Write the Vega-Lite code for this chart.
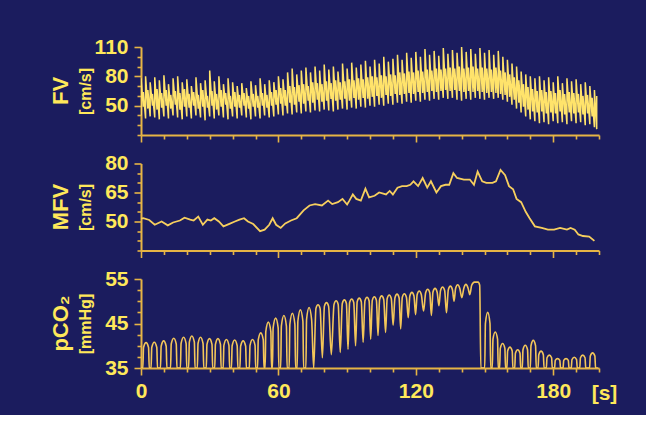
{
"$schema": "https://vega.github.io/schema/vega-lite/v6.json",
"background": "#1b1c5e",
"padding": {"top": 36, "left": 50, "right": 30, "bottom": 12},
"spacing": 28.5,
"bounds": "flush",
"config": {
 "view": {"stroke": null},
 "axis": {"domainColor": "#e6b445", "domainWidth": 2, "tickColor": "#e6b445", "tickWidth": 1.6, "grid": false,
  "labelFont": "Liberation Sans", "labelFontSize": 21, "labelFontWeight": "bold", "labelColor": "#ffe85a",
  "labelFlush": false, "labelOverlap": false, "titleFont": "Liberation Sans", "titleFontWeight": "bold", "titleColor": "#ffe85a"},
 "title": {"font": "Liberation Sans", "fontWeight": "bold", "color": "#ffe85a", "fontSize": 22}
},
"datasets": {
 "fv": [
{"t":0,"a":40,"b":78},{"t":1,"a":49,"b":64},{"t":2,"a":37,"b":80},{"t":3,"a":47,"b":66},{"t":4,"a":39,"b":74},{"t":5,"a":50,"b":62},{"t":6,"a":38,"b":79},{"t":7,"a":46,"b":67},{"t":8,"a":36,"b":76},{"t":9,"a":48,"b":63},
{"t":10,"a":39,"b":81},{"t":11,"a":50,"b":66},{"t":12,"a":37,"b":72},{"t":13,"a":47,"b":61},{"t":14,"a":40,"b":78},{"t":15,"a":51,"b":65},{"t":16,"a":38,"b":80},{"t":17,"a":46,"b":63},{"t":18,"a":36,"b":74},{"t":19,"a":49,"b":67},
{"t":20,"a":39,"b":77},{"t":21,"a":48,"b":62},{"t":22,"a":37,"b":70},{"t":23,"a":50,"b":64},{"t":24,"a":40,"b":79},{"t":25,"a":47,"b":61},{"t":26,"a":38,"b":73},{"t":27,"a":49,"b":66},{"t":28,"a":35,"b":76},{"t":29,"a":48,"b":60},
{"t":30,"a":39,"b":86},{"t":31,"a":50,"b":65},{"t":32,"a":37,"b":75},{"t":33,"a":46,"b":62},{"t":34,"a":40,"b":80},{"t":35,"a":49,"b":66},{"t":36,"a":38,"b":72},{"t":37,"a":51,"b":63},{"t":38,"a":36,"b":78},{"t":39,"a":47,"b":60},
{"t":40,"a":39,"b":74},{"t":41,"a":49,"b":64},{"t":42,"a":37,"b":70},{"t":43,"a":48,"b":61},{"t":44,"a":40,"b":73},{"t":45,"a":50,"b":63},{"t":46,"a":38,"b":68},{"t":47,"a":47,"b":60},{"t":48,"a":36,"b":75},{"t":49,"a":49,"b":62},
{"t":50,"a":39,"b":71},{"t":51,"a":48,"b":60},{"t":52,"a":37,"b":78},{"t":53,"a":50,"b":63},{"t":54,"a":40,"b":72},{"t":55,"a":48,"b":61},{"t":56,"a":38,"b":76},{"t":57,"a":50,"b":64},{"t":58,"a":39,"b":74},{"t":59,"a":51,"b":66},
{"t":60,"a":41,"b":80},{"t":61,"a":52,"b":68},{"t":62,"a":40,"b":77},{"t":63,"a":50,"b":66},{"t":64,"a":42,"b":84},{"t":65,"a":53,"b":70},{"t":66,"a":41,"b":88},{"t":67,"a":51,"b":69},{"t":68,"a":43,"b":82},{"t":69,"a":54,"b":71},
{"t":70,"a":42,"b":86},{"t":71,"a":52,"b":72},{"t":72,"a":44,"b":89},{"t":73,"a":55,"b":70},{"t":74,"a":43,"b":84},{"t":75,"a":53,"b":74},{"t":76,"a":45,"b":90},{"t":77,"a":56,"b":73},{"t":78,"a":44,"b":86},{"t":79,"a":54,"b":72},
{"t":80,"a":46,"b":92},{"t":81,"a":55,"b":75},{"t":82,"a":45,"b":87},{"t":83,"a":57,"b":73},{"t":84,"a":44,"b":90},{"t":85,"a":55,"b":76},{"t":86,"a":46,"b":85},{"t":87,"a":56,"b":74},{"t":88,"a":47,"b":93},{"t":89,"a":57,"b":75},
{"t":90,"a":46,"b":88},{"t":91,"a":55,"b":77},{"t":92,"a":48,"b":94},{"t":93,"a":58,"b":76},{"t":94,"a":47,"b":89},{"t":95,"a":56,"b":78},{"t":96,"a":49,"b":92},{"t":97,"a":58,"b":77},{"t":98,"a":48,"b":96},{"t":99,"a":57,"b":79},
{"t":100,"a":50,"b":90},{"t":101,"a":59,"b":80},{"t":102,"a":49,"b":97},{"t":103,"a":60,"b":79},{"t":104,"a":51,"b":93},{"t":105,"a":58,"b":81},{"t":106,"a":50,"b":100},{"t":107,"a":61,"b":80},{"t":108,"a":52,"b":95},{"t":109,"a":60,"b":82},
{"t":110,"a":51,"b":98},{"t":111,"a":62,"b":81},{"t":112,"a":53,"b":102},{"t":113,"a":61,"b":84},{"t":114,"a":52,"b":97},{"t":115,"a":62,"b":83},{"t":116,"a":54,"b":104},{"t":117,"a":63,"b":85},{"t":118,"a":53,"b":99},{"t":119,"a":62,"b":84},
{"t":120,"a":55,"b":105},{"t":121,"a":64,"b":86},{"t":122,"a":54,"b":100},{"t":123,"a":63,"b":85},{"t":124,"a":56,"b":108},{"t":125,"a":64,"b":87},{"t":126,"a":55,"b":102},{"t":127,"a":65,"b":86},{"t":128,"a":57,"b":106},{"t":129,"a":64,"b":88},
{"t":130,"a":56,"b":101},{"t":131,"a":65,"b":87},{"t":132,"a":58,"b":109},{"t":133,"a":66,"b":88},{"t":134,"a":57,"b":103},{"t":135,"a":65,"b":89},{"t":136,"a":58,"b":107},{"t":137,"a":66,"b":88},{"t":138,"a":56,"b":104},{"t":139,"a":65,"b":90},
{"t":140,"a":55,"b":110},{"t":141,"a":64,"b":88},{"t":142,"a":57,"b":105},{"t":143,"a":65,"b":89},{"t":144,"a":56,"b":108},{"t":145,"a":64,"b":90},{"t":146,"a":58,"b":103},{"t":147,"a":65,"b":88},{"t":148,"a":57,"b":109},{"t":149,"a":64,"b":89},
{"t":150,"a":56,"b":104},{"t":151,"a":63,"b":88},{"t":152,"a":58,"b":107},{"t":153,"a":64,"b":87},{"t":154,"a":57,"b":102},{"t":155,"a":63,"b":89},{"t":156,"a":58,"b":106},{"t":157,"a":62,"b":86},{"t":158,"a":56,"b":100},{"t":159,"a":61,"b":84},
{"t":160,"a":54,"b":97},{"t":161,"a":59,"b":82},{"t":162,"a":51,"b":93},{"t":163,"a":56,"b":79},{"t":164,"a":47,"b":90},{"t":165,"a":53,"b":76},{"t":166,"a":43,"b":85},{"t":167,"a":49,"b":72},{"t":168,"a":39,"b":82},{"t":169,"a":46,"b":69},
{"t":170,"a":36,"b":80},{"t":171,"a":44,"b":67},{"t":172,"a":34,"b":78},{"t":173,"a":43,"b":65},{"t":174,"a":32,"b":80},{"t":175,"a":44,"b":66},{"t":176,"a":33,"b":76},{"t":177,"a":42,"b":64},{"t":178,"a":31,"b":79},{"t":179,"a":43,"b":65},
{"t":180,"a":34,"b":74},{"t":181,"a":42,"b":63},{"t":182,"a":32,"b":80},{"t":183,"a":44,"b":66},{"t":184,"a":33,"b":73},{"t":185,"a":41,"b":62},{"t":186,"a":31,"b":78},{"t":187,"a":43,"b":64},{"t":188,"a":34,"b":75},{"t":189,"a":42,"b":63},
{"t":190,"a":32,"b":77},{"t":191,"a":43,"b":62},{"t":192,"a":33,"b":72},{"t":193,"a":41,"b":60},{"t":194,"a":30,"b":74},{"t":195,"a":42,"b":61},{"t":196,"a":31,"b":70},{"t":197,"a":39,"b":58},{"t":198,"a":28,"b":66},{"t":199,"a":26,"b":60}
 ],
 "mfv": [
{"t":0,"v":51.5},{"t":1,"v":51.7},{"t":3.6,"v":50.8},{"t":6,"v":48.3},{"t":9,"v":50},{"t":11.7,"v":48},{"t":14,"v":49.5},{"t":17,"v":50.5},{"t":19,"v":52},{"t":21.5,"v":51},{"t":23,"v":50.5},{"t":25,"v":52.5},{"t":27,"v":48.3},{"t":29,"v":51},{"t":30.5,"v":50.5},{"t":32,"v":51.7},{"t":34,"v":50},{"t":36,"v":47.5},{"t":38.6,"v":48.8},{"t":41,"v":50},{"t":43,"v":51},{"t":45,"v":51.7},{"t":46.7,"v":50},{"t":49,"v":48.7},{"t":52,"v":45},{"t":54,"v":45.8},{"t":56,"v":48.3},{"t":57.5,"v":51.7},{"t":59,"v":48.3},{"t":61,"v":46.7},{"t":63,"v":49},{"t":65.5,"v":50.5},{"t":68,"v":51.7},{"t":71,"v":55.8},{"t":73.6,"v":58.3},{"t":76,"v":59},{"t":79,"v":58.3},{"t":81.7,"v":60.8},{"t":83.5,"v":59},{"t":86,"v":60},{"t":88,"v":61.7},{"t":90,"v":58.8},{"t":91,"v":60.8},{"t":92.5,"v":64},{"t":94,"v":61.7},{"t":96,"v":60.8},{"t":98,"v":67},{"t":99.6,"v":62.5},{"t":102,"v":63.3},{"t":104,"v":65},{"t":107,"v":64},{"t":108.6,"v":65.8},{"t":110,"v":64},{"t":112,"v":67.5},{"t":114,"v":68.3},{"t":116,"v":68.3},{"t":117.6,"v":69},{"t":119,"v":70.8},{"t":121,"v":68.3},{"t":123,"v":72.5},{"t":125,"v":67.5},{"t":126.6,"v":70.8},{"t":129,"v":65},{"t":131,"v":68.3},{"t":133,"v":69},{"t":134.6,"v":69},{"t":136.4,"v":75},{"t":138,"v":72.5},{"t":141,"v":71.7},{"t":143.6,"v":71.7},{"t":145.4,"v":69},{"t":147,"v":75.8},{"t":149,"v":70.8},{"t":150.8,"v":70},{"t":153.5,"v":70},{"t":155,"v":70.8},{"t":157,"v":76.7},{"t":159,"v":74},{"t":160.7,"v":68.3},{"t":162.5,"v":66.7},{"t":164,"v":61.7},{"t":166,"v":60},{"t":168,"v":55},{"t":169.7,"v":51.7},{"t":172,"v":47.5},{"t":175,"v":46.7},{"t":177.7,"v":45.8},{"t":180.4,"v":45.8},{"t":183,"v":46.7},{"t":186,"v":45.8},{"t":187.6,"v":46.7},{"t":189.4,"v":45.8},{"t":191,"v":43.3},{"t":193,"v":42.5},{"t":195.7,"v":42.2},{"t":198,"v":40}
 ],
 "pco": [
{"t":0,"v":35},
{"t":0.8,"v":35},{"t":1.1,"v":39.6},{"t":2.2,"v":40.7},{"t":3.3,"v":39.6},{"t":3.6,"v":35},
{"t":4.4,"v":35},{"t":4.7,"v":39.6},{"t":5.8,"v":40.8},{"t":6.9,"v":39.6},{"t":7.2,"v":35},
{"t":8.5,"v":35},{"t":8.8,"v":39.9},{"t":9.9,"v":41.1},{"t":11.0,"v":39.9},{"t":11.3,"v":35},
{"t":12.9,"v":35},{"t":13.2,"v":40.4},{"t":14.3,"v":41.7},{"t":15.4,"v":40.4},{"t":15.7,"v":35},
{"t":17.2,"v":35},{"t":17.5,"v":40.5},{"t":18.6,"v":41.9},{"t":19.7,"v":40.5},{"t":20.0,"v":35},
{"t":20.8,"v":35},{"t":21.1,"v":40.8},{"t":22.2,"v":42.2},{"t":23.3,"v":40.8},{"t":23.6,"v":35},
{"t":24.6,"v":35},{"t":24.9,"v":40.5},{"t":26.0,"v":41.9},{"t":27.1,"v":40.5},{"t":27.4,"v":35},
{"t":28.5,"v":35},{"t":28.8,"v":40.3},{"t":29.9,"v":41.6},{"t":31.0,"v":40.3},{"t":31.3,"v":35},
{"t":32.2,"v":35},{"t":32.5,"v":40.3},{"t":33.6,"v":41.6},{"t":34.7,"v":40.3},{"t":35.0,"v":35},
{"t":35.9,"v":35},{"t":36.2,"v":40.1},{"t":37.3,"v":41.4},{"t":38.4,"v":40.1},{"t":38.7,"v":35},
{"t":39.5,"v":35},{"t":39.8,"v":40.0},{"t":40.9,"v":41.3},{"t":42.0,"v":40.0},{"t":42.3,"v":35},
{"t":43.2,"v":35},{"t":43.5,"v":39.9},{"t":44.6,"v":41.1},{"t":45.7,"v":39.9},{"t":46.0,"v":35},
{"t":47.3,"v":35},{"t":47.6,"v":40.1},{"t":48.7,"v":41.4},{"t":49.8,"v":40.1},{"t":50.1,"v":35},
{"t":50.9,"v":35},{"t":51.2,"v":41.3},{"t":52.3,"v":42.9},{"t":53.4,"v":41.3},{"t":53.7,"v":35},
{"t":54.2,"v":35},{"t":54.5,"v":43.2},{"t":55.6,"v":45.3},{"t":56.7,"v":43.2},{"t":57.0,"v":35},
{"t":57.4,"v":35},{"t":57.7,"v":44.0},{"t":58.8,"v":46.2},{"t":59.9,"v":44.0},{"t":60.2,"v":35},
{"t":61.0,"v":35},{"t":61.3,"v":44.4},{"t":62.4,"v":46.8},{"t":63.5,"v":44.4},{"t":63.8,"v":35},
{"t":64.7,"v":35},{"t":65.0,"v":44.8},{"t":66.1,"v":47.3},{"t":67.2,"v":44.8},{"t":67.5,"v":35},
{"t":68.2,"v":35},{"t":68.5,"v":45.5},{"t":69.6,"v":48.1},{"t":70.7,"v":45.5},{"t":71.0,"v":35},
{"t":72.0,"v":35},{"t":72.3,"v":45.9},{"t":73.4,"v":48.6},{"t":74.5,"v":45.9},{"t":75.4,"v":35},
{"t":76.4,"v":48.4},{"t":77.3,"v":49.2},{"t":78.2,"v":48.4},{"t":79.2,"v":37.3},
{"t":80.1,"v":48.9},{"t":81.0,"v":49.7},{"t":81.9,"v":48.9},{"t":83.1,"v":38.0},
{"t":84.3,"v":49.3},{"t":85.2,"v":50.1},{"t":86.1,"v":49.3},{"t":87.0,"v":38.5},
{"t":87.9,"v":49.5},{"t":88.8,"v":50.3},{"t":89.7,"v":49.5},{"t":90.4,"v":39.2},
{"t":91.1,"v":49.7},{"t":92.0,"v":50.5},{"t":92.9,"v":49.7},{"t":93.7,"v":40.0},
{"t":94.4,"v":49.9},{"t":95.3,"v":50.7},{"t":96.2,"v":49.9},{"t":97.0,"v":40.8},
{"t":97.8,"v":50.1},{"t":98.7,"v":50.9},{"t":99.6,"v":50.1},{"t":100.3,"v":41.5},
{"t":101.0,"v":50.2},{"t":101.9,"v":51.0},{"t":102.8,"v":50.2},{"t":103.5,"v":42.3},
{"t":104.2,"v":50.4},{"t":105.1,"v":51.2},{"t":106.0,"v":50.4},{"t":106.8,"v":43.0},
{"t":107.5,"v":50.6},{"t":108.4,"v":51.4},{"t":109.3,"v":50.6},{"t":110.1,"v":44.6},
{"t":110.9,"v":50.8},{"t":111.8,"v":51.6},{"t":112.7,"v":50.8},{"t":113.4,"v":43.8},
{"t":114.1,"v":50.9},{"t":115.0,"v":51.7},{"t":115.9,"v":50.9},{"t":116.7,"v":46.3},
{"t":117.4,"v":51.2},{"t":118.3,"v":52.0},{"t":119.2,"v":51.2},{"t":119.9,"v":47.0},
{"t":120.6,"v":51.5},{"t":121.5,"v":52.3},{"t":122.4,"v":51.5},{"t":123.4,"v":47.8},
{"t":124.3,"v":51.9},{"t":125.2,"v":52.7},{"t":126.1,"v":51.9},{"t":126.8,"v":46.8},
{"t":127.5,"v":52.1},{"t":128.4,"v":52.9},{"t":129.3,"v":52.1},{"t":130.1,"v":49.0},
{"t":130.8,"v":52.4},{"t":131.7,"v":53.2},{"t":132.6,"v":52.4},{"t":133.4,"v":47.4},
{"t":134.2,"v":52.6},{"t":135.1,"v":53.4},{"t":136.0,"v":52.6},{"t":136.7,"v":50.0},
{"t":137.4,"v":52.9},{"t":138.3,"v":53.7},{"t":139.2,"v":52.9},{"t":140.1,"v":50.8},
{"t":141.0,"v":53.0},{"t":141.9,"v":53.8},{"t":142.8,"v":53.0},{"t":143.6,"v":51.5},
{"t":144.4,"v":53.6},{"t":145.6,"v":54.3},{"t":147.2,"v":54.3},{"t":147.9,"v":53.6},{"t":148.4,"v":35},
{"t":150.1,"v":35},{"t":150.4,"v":45.0},{"t":151.4,"v":47.5},{"t":152.4,"v":45.0},{"t":152.7,"v":35},
{"t":153.4,"v":35},{"t":153.7,"v":41.5},{"t":154.7,"v":43.1},{"t":155.7,"v":41.5},{"t":156.0,"v":35},
{"t":156.6,"v":35},{"t":156.9,"v":39.4},{"t":157.9,"v":40.5},{"t":158.9,"v":39.4},{"t":159.2,"v":35},
{"t":159.8,"v":35},{"t":160.1,"v":38.8},{"t":161.1,"v":39.7},{"t":162.1,"v":38.8},{"t":162.4,"v":35},
{"t":163.2,"v":35},{"t":163.5,"v":38.3},{"t":164.5,"v":39.1},{"t":165.5,"v":38.3},{"t":165.8,"v":35},
{"t":166.5,"v":35},{"t":166.8,"v":39.1},{"t":167.8,"v":40.1},{"t":168.8,"v":39.1},{"t":169.1,"v":35},
{"t":170.0,"v":35},{"t":170.3,"v":40.0},{"t":171.3,"v":41.2},{"t":172.3,"v":40.0},{"t":172.6,"v":35},
{"t":173.4,"v":35},{"t":173.7,"v":38.0},{"t":174.7,"v":38.8},{"t":175.7,"v":38.0},{"t":176.0,"v":35},
{"t":177.0,"v":35},{"t":177.3,"v":37.3},{"t":178.3,"v":37.9},{"t":179.3,"v":37.3},{"t":179.6,"v":35},
{"t":180.6,"v":35},{"t":180.9,"v":36.7},{"t":181.9,"v":37.1},{"t":182.9,"v":36.7},{"t":183.2,"v":35},
{"t":184.3,"v":35},{"t":184.6,"v":36.7},{"t":185.6,"v":37.1},{"t":186.6,"v":36.7},{"t":186.9,"v":35},
{"t":187.9,"v":35},{"t":188.2,"v":36.9},{"t":189.2,"v":37.4},{"t":190.2,"v":36.9},{"t":190.5,"v":35},
{"t":191.6,"v":35},{"t":191.9,"v":37.3},{"t":192.9,"v":37.9},{"t":193.9,"v":37.3},{"t":194.2,"v":35},
{"t":195.9,"v":35},{"t":196.2,"v":37.7},{"t":197.2,"v":38.4},{"t":198.2,"v":37.7},{"t":198.5,"v":35},
{"t":199.5,"v":35}
 ]
},
"vconcat": [
 {
  "width": 458, "height": 88,
  "data": {"name": "fv"},
  "transform": [{"fold": ["a", "b"], "as": ["k", "v"]}],
  "title": {"text": "FV", "orient": "left", "anchor": "middle", "offset": 4},
  "mark": {"type": "line", "color": "#ffe36b", "strokeWidth": 1.5, "clip": true},
  "encoding": {
   "x": {"field": "t", "type": "quantitative", "scale": {"domain": [0, 200], "nice": false, "zero": false},
    "axis": {"values": [0,10,20,30,40,50,60,70,80,90,100,110,120,130,140,150,160,170,180,190,200], "labels": false, "title": null,
     "tickSize": {"condition": {"test": "datum.value % 60 === 0", "value": 7}, "value": 4}}},
   "y": {"field": "v", "type": "quantitative", "scale": {"domain": [20, 110], "nice": false, "zero": false},
    "axis": {"values": [20,30,40,50,60,70,80,90,100,110], "labelExpr": "indexof([50,80,110], datum.value) >= 0 ? datum.label : ''",
     "tickSize": {"condition": {"test": "indexof([50,80,110], datum.value) >= 0", "value": 7}, "value": 4},
     "labelPadding": 6, "title": "[cm/s]", "titleFontSize": 16, "titleX": -56, "titleBaseline": "middle"}},
   "order": [{"field": "t", "type": "quantitative"}, {"field": "k", "type": "ordinal"}]
  }
 },
 {
  "width": 458, "height": 87,
  "data": {"name": "mfv"},
  "title": {"text": "MFV", "orient": "left", "anchor": "middle", "offset": 4},
  "mark": {"type": "line", "color": "#f7cf5e", "strokeWidth": 1.8, "clip": true},
  "encoding": {
   "x": {"field": "t", "type": "quantitative", "scale": {"domain": [0, 200], "nice": false, "zero": false},
    "axis": {"values": [0,10,20,30,40,50,60,70,80,90,100,110,120,130,140,150,160,170,180,190,200], "labels": false, "title": null,
     "tickSize": {"condition": {"test": "datum.value % 60 === 0", "value": 7}, "value": 4}}},
   "y": {"field": "v", "type": "quantitative", "scale": {"domain": [35, 80], "nice": false, "zero": false},
    "axis": {"values": [35,40,45,50,55,60,65,70,75,80], "labelExpr": "indexof([50,65,80], datum.value) >= 0 ? datum.label : ''",
     "tickSize": {"condition": {"test": "indexof([50,65,80], datum.value) >= 0", "value": 7}, "value": 4},
     "labelPadding": 6, "title": "[cm/s]", "titleFontSize": 16, "titleX": -56, "titleBaseline": "middle"}}
  }
 },
 {
  "width": 458, "height": 89,
  "data": {"name": "pco"},
  "title": {"text": "pCO₂", "orient": "left", "anchor": "middle", "offset": 4},
  "mark": {"type": "line", "color": "#f3c659", "strokeWidth": 1.6, "interpolate": "monotone", "clip": true},
  "encoding": {
   "x": {"field": "t", "type": "quantitative", "scale": {"domain": [0, 200], "nice": false, "zero": false},
    "axis": {"values": [0,10,20,30,40,50,60,70,80,90,100,110,120,130,140,150,160,170,180,190,200],
     "labelExpr": "datum.value % 60 === 0 ? datum.label : ''", "labelPadding": 5,
     "tickSize": {"condition": {"test": "datum.value % 60 === 0", "value": 7}, "value": 4},
     "title": "[s]", "titleFontSize": 21, "titleX": 463, "titleY": 25, "titleBaseline": "middle", "titleAlign": "center"}},
   "y": {"field": "v", "type": "quantitative", "scale": {"domain": [35, 55], "nice": false, "zero": false},
    "axis": {"values": [35,37.5,40,42.5,45,47.5,50,52.5,55], "labelExpr": "indexof([35,45,55], datum.value) >= 0 ? datum.label : ''",
     "tickSize": {"condition": {"test": "indexof([35,45,55], datum.value) >= 0", "value": 7}, "value": 4},
     "labelPadding": 6, "title": "[mmHg]", "titleFontSize": 16, "titleX": -56, "titleBaseline": "middle"}}
  }
 }
]
}
